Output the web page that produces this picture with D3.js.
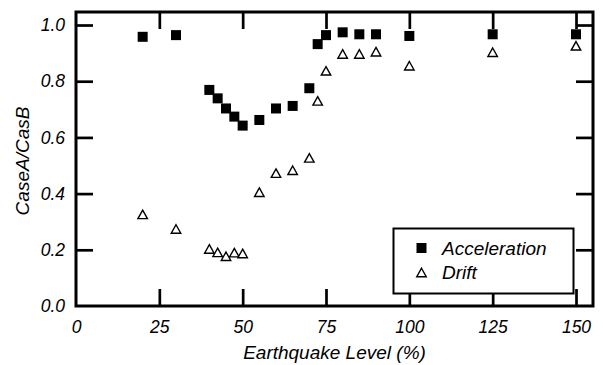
<!DOCTYPE html>
<html>
<head>
<meta charset="utf-8">
<script src="https://cdn.jsdelivr.net/npm/d3@7"></script>
<style>
  body { margin: 0; background: #fff; }
  text { font-family: "Liberation Sans", Arial, sans-serif; font-style: italic; fill: #000; }
</style>
</head>
<body>
<svg id="chart" width="603" height="365"></svg>
<script>
// ---- data ----
const levels = [20, 30, 40, 42.5, 45, 47.5, 50, 55, 60, 65, 70, 72.5, 75, 80, 85, 90, 100, 125, 150];
const acceleration = [0.958, 0.964, 0.769, 0.739, 0.703, 0.674, 0.642, 0.662, 0.703, 0.712, 0.775, 0.932, 0.964, 0.974, 0.967, 0.967, 0.961, 0.967, 0.967];
const drift = [0.326, 0.274, 0.203, 0.191, 0.177, 0.190, 0.187, 0.405, 0.473, 0.483, 0.527, 0.730, 0.837, 0.897, 0.897, 0.905, 0.855, 0.903, 0.926];
const xTicks = [0, 25, 50, 75, 100, 125, 150];
const yTicks = [0.0, 0.2, 0.4, 0.6, 0.8, 1.0];
const seriesNames = ["Acceleration", "Drift"];
const xTitle = "Earthquake Level (%)";
const yTitle = "CaseA/CasB";

// ---- layout ----
const L = 76, R = 593, T = 12, B = 306;
const svg = d3.select("#chart");
const x = d3.scaleLinear().domain([0, 155.1]).range([L, R]);
const y = d3.scaleLinear().domain([0, 1.0463]).range([B, T]);
const tickLen = 17;

function styleAxis(g, showText) {
  g.select(".domain").remove();
  g.selectAll(".tick line").attr("stroke", "#000").attr("stroke-width", 2.7);
  g.selectAll(".tick text").style("font-size", "17.5px").style("font-family", '"Liberation Sans", Arial, sans-serif').style("font-style", "italic");
  if (!showText) g.selectAll(".tick text").remove();
}

// bottom
svg.append("g").attr("transform", `translate(0,${B})`)
  .call(d3.axisBottom(x).tickValues(xTicks).tickSize(-tickLen).tickSizeOuter(0).tickPadding(15).tickFormat(d3.format("d")))
  .call(g => styleAxis(g, true))
  .call(g => g.selectAll(".tick").filter(d => d === 0).select("line").remove());
// top
svg.append("g").attr("transform", `translate(0,${T})`)
  .call(d3.axisTop(x).tickValues(xTicks.filter(d => d > 0)).tickSize(-tickLen).tickSizeOuter(0))
  .call(g => styleAxis(g, false));
// left
svg.append("g").attr("transform", `translate(${L},0)`)
  .call(d3.axisLeft(y).tickValues(yTicks).tickSize(-tickLen).tickSizeOuter(0).tickPadding(11).tickFormat(d3.format(".1f")))
  .call(g => styleAxis(g, true))
  .call(g => g.selectAll(".tick").filter(d => d === 0).select("line").remove());
// right
svg.append("g").attr("transform", `translate(${R},0)`)
  .call(d3.axisRight(y).tickValues(yTicks.filter(d => d > 0)).tickSize(-tickLen).tickSizeOuter(0))
  .call(g => styleAxis(g, false));

// frame
svg.append("rect").attr("x", L).attr("y", T).attr("width", R - L).attr("height", B - T)
  .attr("fill", "none").attr("stroke", "#000").attr("stroke-width", 3);

// markers
const sq = 10;
function triPath(cx, cy) {
  const w = 9.5, h = 8.5;
  return `M${cx},${cy - h / 2}L${cx + w / 2},${cy + h / 2}L${cx - w / 2},${cy + h / 2}Z`;
}

svg.append("g").selectAll("path").data(levels.map((l, i) => [l, drift[i]])).join("path")
  .attr("d", d => triPath(x(d[0]), y(d[1])))
  .attr("fill", "#fff").attr("stroke", "#000").attr("stroke-width", 1.4).attr("stroke-linejoin", "miter");

svg.append("g").selectAll("rect").data(levels.map((l, i) => [l, acceleration[i]])).join("rect")
  .attr("x", d => x(d[0]) - sq / 2).attr("y", d => y(d[1]) - sq / 2)
  .attr("width", sq).attr("height", sq).attr("fill", "#000");

// legend
const lg = svg.append("g");
lg.append("rect").attr("x", 393.5).attr("y", 228.5).attr("width", 180).attr("height", 65)
  .attr("fill", "#fff").attr("stroke", "#000").attr("stroke-width", 2);
lg.append("rect").attr("x", 421.5 - sq / 2).attr("y", 248 - sq / 2).attr("width", sq).attr("height", sq).attr("fill", "#000");
lg.append("path").attr("d", triPath(421.5, 272.5)).attr("fill", "#fff").attr("stroke", "#000").attr("stroke-width", 1.4);
lg.append("text").attr("x", 442).attr("y", 255).style("font-size", "19px").text(seriesNames[0]);
lg.append("text").attr("x", 442).attr("y", 279).style("font-size", "19px").text(seriesNames[1]);

// titles
svg.append("text").attr("x", (L + R) / 2).attr("y", 358.5).attr("text-anchor", "middle")
  .style("font-size", "19px").text(xTitle);
svg.append("text").attr("transform", `translate(29,${(T + B) / 2 + 2}) rotate(-90)`).attr("text-anchor", "middle")
  .style("font-size", "19px").text(yTitle);
</script>
</body>
</html>
